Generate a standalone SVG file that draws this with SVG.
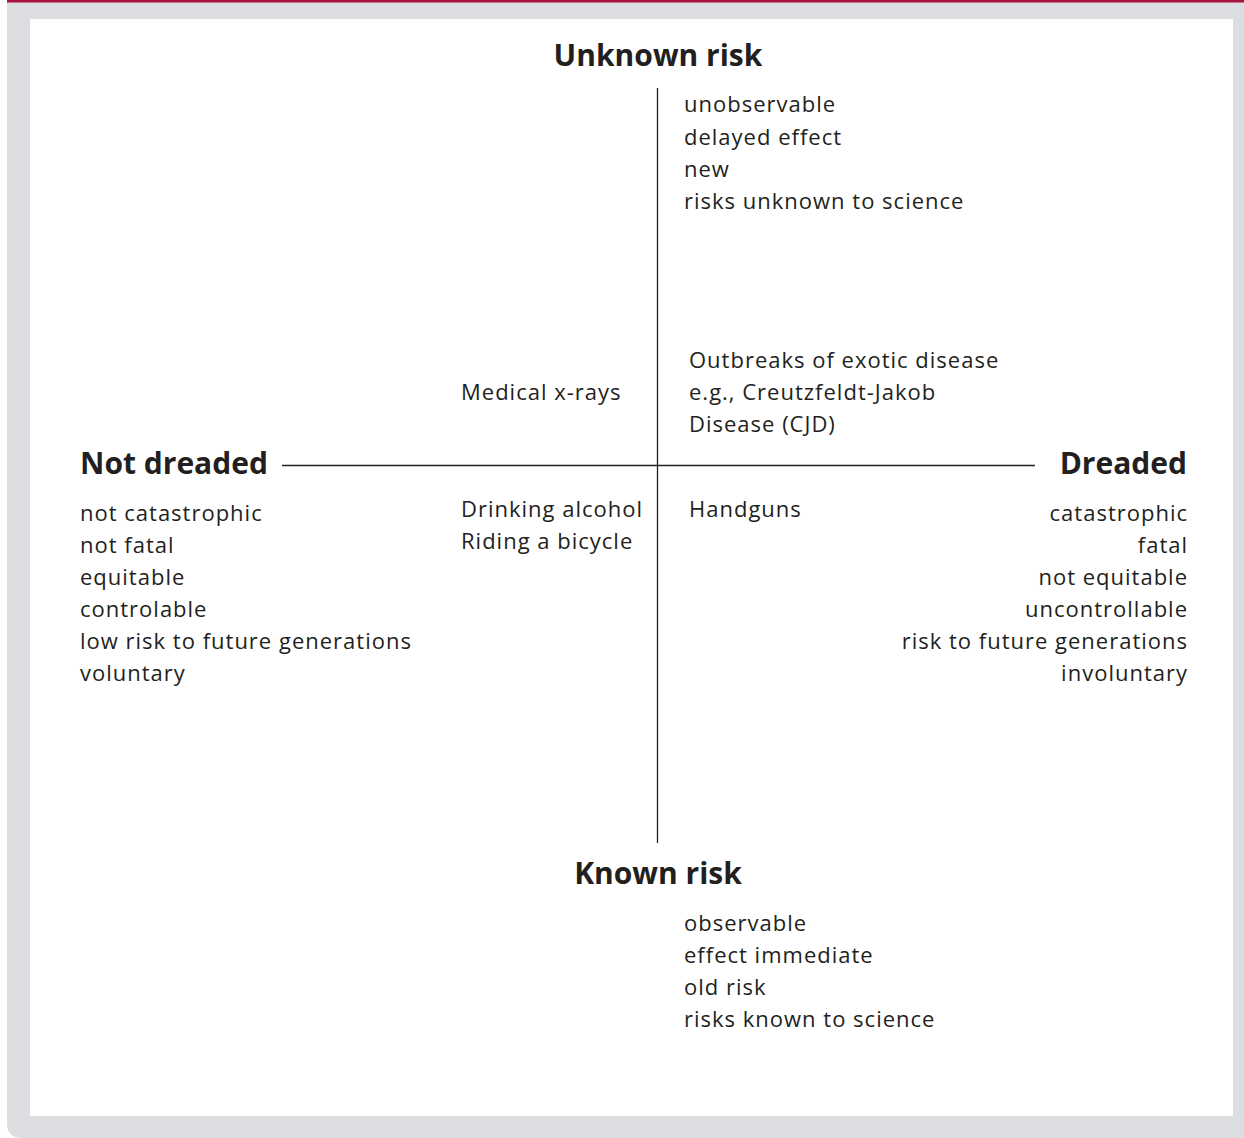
<svg xmlns="http://www.w3.org/2000/svg" width="1244" height="1138" viewBox="0 0 1244 1138">
<style>
.t{font-family:"Open Sans","Noto Sans","Liberation Sans",sans-serif;font-size:22px;letter-spacing:1px;fill:#231f20}
.h{font-family:"Open Sans","Noto Sans","Liberation Sans",sans-serif;font-size:30px;font-weight:bold;fill:#231f20}
.ax{stroke:#231f20;stroke-width:1.3;fill:none}
.r{text-anchor:end}
.m{text-anchor:middle}
</style>
<rect x="0" y="0" width="1244" height="1138" fill="#ffffff"/>
<path d="M7 2 H1244 V1138 H22 Q7 1138 7 1123 Z" fill="#dcdde0"/>
<rect x="30" y="19" width="1203" height="1097" fill="#ffffff"/>
<rect x="7" y="0" width="1237" height="2.5" fill="#a6133f"/>
<g id="connectors">
<line class="ax" x1="657.5" y1="88" x2="657.5" y2="843"/>
<line class="ax" x1="282" y1="465.5" x2="1035" y2="465.5"/>
</g>
<g id="unknown-risk">
<text class="h m" x="658" y="66">Unknown risk</text>
<text class="t" x="684" y="112">unobservable</text>
<text class="t" x="684" y="145">delayed effect</text>
<text class="t" x="684" y="177">new</text>
<text class="t" x="684" y="209">risks unknown to science</text>
</g>
<g id="not-dreaded">
<text class="h" x="80" y="474">Not dreaded</text>
<text class="t" x="80" y="521">not catastrophic</text>
<text class="t" x="80" y="553">not fatal</text>
<text class="t" x="80" y="585">equitable</text>
<text class="t" x="80" y="617">controlable</text>
<text class="t" x="80" y="649">low risk to future generations</text>
<text class="t" x="80" y="681">voluntary</text>
</g>
<g id="dreaded">
<text class="h r" x="1187" y="474">Dreaded</text>
<text class="t r" x="1188" y="521">catastrophic</text>
<text class="t r" x="1188" y="553">fatal</text>
<text class="t r" x="1188" y="585">not equitable</text>
<text class="t r" x="1188" y="617">uncontrollable</text>
<text class="t r" x="1188" y="649">risk to future generations</text>
<text class="t r" x="1188" y="681">involuntary</text>
</g>
<g id="medical-xrays">
<text class="t" x="461" y="400">Medical x-rays</text>
</g>
<g id="exotic-disease">
<text class="t" x="689" y="368">Outbreaks of exotic disease</text>
<text class="t" x="689" y="400">e.g., Creutzfeldt-Jakob</text>
<text class="t" x="689" y="432">Disease (CJD)</text>
</g>
<g id="alcohol-bicycle">
<text class="t" x="461" y="517">Drinking alcohol</text>
<text class="t" x="461" y="549">Riding a bicycle</text>
</g>
<g id="handguns">
<text class="t" x="689" y="517">Handguns</text>
</g>
<g id="known-risk">
<text class="h m" x="658" y="884">Known risk</text>
<text class="t" x="684" y="931">observable</text>
<text class="t" x="684" y="963">effect immediate</text>
<text class="t" x="684" y="995">old risk</text>
<text class="t" x="684" y="1027">risks known to science</text>
</g>
</svg>
